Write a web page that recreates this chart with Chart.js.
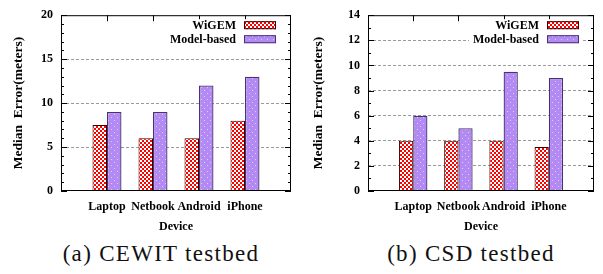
<!DOCTYPE html>
<html>
<head>
<meta charset="utf-8">
<script src="https://cdn.jsdelivr.net/npm/chart.js@4.4.1/dist/chart.umd.min.js"></script>
<style>
  body { margin: 0; background: #fff; width: 603px; height: 274px; overflow: hidden; position: relative; }
  .box { position: absolute; top: 0; height: 236px; }
  .cap { position: absolute; top: 241px; font-family: "Liberation Serif", "DejaVu Serif", serif; font-size: 23px; color: #111;
         letter-spacing: 1.3px; white-space: nowrap; transform: translateX(-50%); }
</style>
</head>
<body>
<div class="box" style="left:0;width:300px"><canvas id="cewit"></canvas></div>
<div class="box" style="left:300px;width:303px"><canvas id="csd"></canvas></div>
<div class="cap" style="left:161px">(a) CEWIT testbed</div>
<div class="cap" style="left:471px">(b) CSD testbed</div>
<script>
const devices = ["Laptop", "Netbook", "Android", "iPhone"];
const seriesNames = ["WiGEM", "Model-based"];

// (a) CEWIT testbed
const cewitWigem = [7.5, 6, 6, 8];
const cewitModel = [9, 9, 12, 13];
const cewitTicks = [0, 5, 10, 15, 20];

// (b) CSD testbed
const csdWigem = [4, 4, 4, 3.5];
const csdModel = [6, 5, 9.5, 9];
const csdTicks = [0, 2, 4, 6, 8, 10, 12, 14];

const FONT = { family: "Liberation Serif", weight: "bold", size: 12 };
const TITLE_FONT = { family: "Liberation Serif", weight: "bold", size: 13.5 };

function makePattern(bg, fg, tile, dot) {
  const c = document.createElement("canvas");
  c.width = tile;
  c.height = tile;
  const g = c.getContext("2d");
  g.fillStyle = bg;
  g.fillRect(0, 0, tile, tile);
  g.fillStyle = fg;
  const h = tile / 2;
  g.fillRect(0, 0, dot, dot);
  g.fillRect(h, h, dot, dot);
  return g.createPattern(c, "repeat");
}

const redFill = makePattern("#ff0000", "#ffffff", 4, 2);
const purpleFill = makePattern("#b38af3", "#dccdfb", 6, 1);

// gnuplot-like frame with inward ticks
const framePlugin = {
  id: "frame",
  afterDatasetsDraw(chart, args, opts) {
    const { ctx, chartArea: a, scales: { x, y } } = chart;
    ctx.save();
    ctx.strokeStyle = "#000";
    ctx.lineWidth = 1;
    ctx.strokeRect(a.left + 0.5, a.top + 0.5, a.right - a.left - 1, a.bottom - a.top - 1);
    ctx.beginPath();
    for (let v = 0; v <= y.max; v += 1) {
      const py = Math.round(y.getPixelForValue(v)) + 0.5;
      const len = v % opts.step === 0 ? 6 : 3;
      ctx.moveTo(a.left, py); ctx.lineTo(a.left + len, py);
      ctx.moveTo(a.right, py); ctx.lineTo(a.right - len, py);
    }
    devices.forEach((d, i) => {
      const px = Math.round(x.getPixelForValue(i)) + 0.5;
      ctx.moveTo(px, a.top); ctx.lineTo(px, a.top + 6);
    });
    ctx.stroke();
    ctx.restore();
  },
};

// legend inside the plot, text left of the swatch
const keyPlugin = {
  id: "key",
  afterDraw(chart) {
    const { ctx, chartArea: a } = chart;
    ctx.save();
    ctx.font = `bold ${FONT.size}px ${FONT.family}`;
    ctx.textAlign = "right";
    ctx.textBaseline = "middle";
    chart.data.datasets.forEach((ds, i) => {
      const cy = a.top + 10 + i * 14;
      const textRight = a.right - 55;
      const w = ctx.measureText(ds.label).width;
      ctx.fillStyle = "#fff";
      ctx.fillRect(textRight - w - 4, cy - 6, w + 48, 12);
      ctx.fillStyle = "#000";
      ctx.fillText(ds.label, textRight, cy + 1);
      ctx.fillStyle = ds.backgroundColor;
      ctx.fillRect(a.right - 47, cy - 4, 32, 8);
      ctx.strokeStyle = ds.borderColor;
      ctx.lineWidth = 1;
      ctx.strokeRect(a.right - 46.5, cy - 3.5, 31, 7);
    });
    ctx.restore();
  },
};

function buildChart(id, wigem, model, ticks, yWidth, padRight) {
  const yMax = ticks[ticks.length - 1];
  const step = ticks[1] - ticks[0];
  return new Chart(document.getElementById(id), {
    type: "bar",
    data: {
      datasets: [
        {
          label: seriesNames[0],
          data: devices.map((d, i) => ({ x: i, y: wigem[i] })),
          backgroundColor: redFill,
          borderColor: "#3a0000",
          borderWidth: 1,
        },
        {
          label: seriesNames[1],
          data: devices.map((d, i) => ({ x: i, y: model[i] })),
          backgroundColor: purpleFill,
          borderColor: "#4a3272",
          borderWidth: 1.3,
        },
      ],
    },
    options: {
      responsive: true,
      maintainAspectRatio: false,
      animation: false,
      layout: { padding: { top: 12, right: padRight, left: 0, bottom: 0 } },
      categoryPercentage: 0.63,
      barPercentage: 1.0,
      plugins: { legend: { display: false }, tooltip: { enabled: false }, frame: { step } },
      scales: {
        x: {
          type: "linear",
          min: -1,
          max: 4,
          offset: false,
          afterFit: (s) => { s.height = 45; },
          ticks: {
            stepSize: 1,
            autoSkip: false,
            maxRotation: 0,
            padding: 9,
            color: "#000",
            font: FONT,
            callback: (v) => devices[v] ?? "",
          },
          grid: { display: false, drawTicks: false },
          border: { display: false },
          title: { display: true, text: "Device", color: "#000", font: FONT, padding: { top: 0, bottom: 2 } },
        },
        y: {
          min: 0,
          max: yMax,
          afterFit: (s) => { s.width = yWidth; },
          ticks: { stepSize: step, color: "#000", font: FONT, padding: 8 },
          grid: {
            drawTicks: false,
            lineWidth: 1,
            color: (c) => (c.tick && c.tick.value > 0 && c.tick.value < yMax ? "#9a9a9a" : "rgba(0,0,0,0)"),
          },
          border: { display: false, dash: [3, 2] },
          title: { display: true, text: "Median  Error(meters)", color: "#000", font: TITLE_FONT, padding: { top: 10, bottom: 0 } },
        },
      },
    },
    plugins: [framePlugin, keyPlugin],
  });
}

buildChart("cewit", cewitWigem, cewitModel, cewitTicks, 61, 7);
buildChart("csd", csdWigem, csdModel, csdTicks, 68, 4);
</script>
</body>
</html>
